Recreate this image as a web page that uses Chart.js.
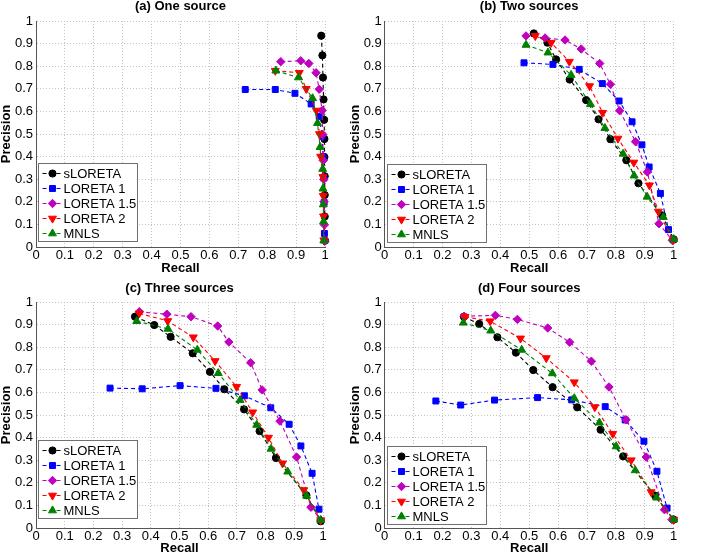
<!DOCTYPE html>
<html>
<head>
<meta charset="utf-8">
<script src="https://cdn.jsdelivr.net/npm/chart.js@4.4.0/dist/chart.umd.min.js"></script>
<style>
html, body { margin: 0; padding: 0; background: #fff; }
#wrap { position: relative; width: 725px; height: 555px; overflow: hidden; }
.panel { position: absolute; }
</style>
</head>
<body>
<div id="wrap">
    <div class="panel" style="left:0px;top:0px"><canvas id="chartA" width="362" height="277"></canvas></div>
    <div class="panel" style="left:349px;top:0px"><canvas id="chartB" width="376" height="277"></canvas></div>
    <div class="panel" style="left:0px;top:277px"><canvas id="chartC" width="362" height="278"></canvas></div>
    <div class="panel" style="left:349px;top:277px"><canvas id="chartD" width="376" height="278"></canvas></div>
</div>
<script>
// Legend names and panel titles
const methodNames = ['sLORETA', 'LORETA 1', 'LORETA 1.5', 'LORETA 2', 'MNLS'];
const panelTitles = ['(a) One source', '(b) Two sources', '(c) Three sources', '(d) Four sources'];

// Points are [recall, precision]
// (a) One source
const a_sLORETA = [[0.987,0.935],[0.991,0.848],[0.993,0.75],[0.995,0.653],[0.997,0.563],[0.998,0.478],[0.998,0.398],[0.999,0.313],[0.999,0.23],[0.999,0.135],[1.0,0.028]];
const a_LORETA1 = [[0.724,0.697],[0.828,0.697],[0.896,0.68],[0.952,0.633],[0.98,0.578],[0.99,0.49],[0.993,0.40],[0.996,0.305],[0.997,0.197],[0.998,0.06]];
const a_LORETA15 = [[0.847,0.82],[0.916,0.824],[0.944,0.812],[0.969,0.771],[0.98,0.698],[0.99,0.604],[0.992,0.498],[0.994,0.383],[0.996,0.30],[0.997,0.2],[0.998,0.098],[0.999,0.025]];
const a_LORETA2 = [[0.828,0.78],[0.911,0.771],[0.935,0.70],[0.97,0.604],[0.981,0.50],[0.985,0.40],[0.993,0.31],[0.994,0.226],[0.995,0.136],[0.996,0.03]];
const a_MNLS = [[0.83,0.78],[0.908,0.75],[0.957,0.658],[0.974,0.548],[0.983,0.442],[0.992,0.345],[0.993,0.258],[0.994,0.188],[0.995,0.113],[0.996,0.028]];

// (b) Two sources
const b_sLORETA = [[0.516,0.945],[0.563,0.904],[0.593,0.83],[0.64,0.741],[0.697,0.65],[0.74,0.565],[0.781,0.477],[0.836,0.384],[0.878,0.282],[0.96,0.14],[1.0,0.034]];
const b_LORETA1 = [[0.482,0.815],[0.582,0.808],[0.673,0.786],[0.753,0.723],[0.811,0.646],[0.856,0.554],[0.89,0.452],[0.915,0.354],[0.954,0.237],[0.982,0.077],[0.998,0.032]];
const b_LORETA15 = [[0.489,0.934],[0.555,0.925],[0.624,0.916],[0.68,0.876],[0.744,0.812],[0.781,0.72],[0.813,0.603],[0.868,0.466],[0.909,0.332],[0.949,0.103],[0.995,0.03]];
const b_LORETA2 = [[0.521,0.934],[0.576,0.904],[0.639,0.82],[0.709,0.712],[0.754,0.594],[0.807,0.48],[0.862,0.374],[0.916,0.273],[0.947,0.157],[0.998,0.03]];
const b_MNLS = [[0.489,0.894],[0.565,0.86],[0.645,0.761],[0.712,0.632],[0.762,0.526],[0.825,0.412],[0.863,0.316],[0.908,0.222],[0.964,0.132],[1.0,0.034]];

// (c) Three sources
const c_sLORETA = [[0.345,0.935],[0.412,0.898],[0.469,0.846],[0.546,0.773],[0.606,0.691],[0.656,0.614],[0.725,0.525],[0.779,0.429],[0.836,0.31],[0.942,0.145],[0.992,0.03]];
const c_LORETA1 = [[0.258,0.619],[0.37,0.616],[0.502,0.63],[0.627,0.618],[0.726,0.585],[0.818,0.532],[0.882,0.459],[0.923,0.363],[0.962,0.242],[0.986,0.083]];
const c_LORETA15 = [[0.36,0.957],[0.456,0.946],[0.54,0.935],[0.633,0.894],[0.672,0.823],[0.748,0.731],[0.788,0.611],[0.85,0.473],[0.908,0.314],[0.958,0.092],[0.992,0.035]];
const c_LORETA2 = [[0.36,0.95],[0.459,0.916],[0.548,0.844],[0.624,0.739],[0.699,0.625],[0.755,0.512],[0.81,0.4],[0.859,0.286],[0.933,0.168],[0.992,0.035]];
const c_MNLS = [[0.351,0.915],[0.46,0.881],[0.562,0.788],[0.635,0.685],[0.711,0.566],[0.769,0.456],[0.819,0.35],[0.877,0.249],[0.943,0.142],[0.992,0.035]];

// (d) Four sources
const d_sLORETA = [[0.274,0.935],[0.327,0.903],[0.39,0.844],[0.454,0.776],[0.514,0.699],[0.581,0.623],[0.666,0.534],[0.747,0.435],[0.825,0.317],[0.936,0.143],[1.0,0.037]];
const d_LORETA1 = [[0.177,0.562],[0.263,0.544],[0.38,0.566],[0.529,0.577],[0.647,0.567],[0.763,0.537],[0.832,0.478],[0.897,0.384],[0.942,0.251],[0.977,0.088]];
const d_LORETA15 = [[0.275,0.937],[0.383,0.941],[0.459,0.923],[0.564,0.885],[0.64,0.822],[0.715,0.738],[0.776,0.624],[0.835,0.479],[0.905,0.314],[0.968,0.081],[0.994,0.037]];
const d_LORETA2 = [[0.278,0.935],[0.365,0.915],[0.47,0.839],[0.559,0.752],[0.656,0.645],[0.727,0.535],[0.789,0.417],[0.853,0.3],[0.922,0.159],[1.0,0.037]];
const d_MNLS = [[0.272,0.908],[0.367,0.873],[0.474,0.788],[0.58,0.684],[0.656,0.574],[0.743,0.466],[0.801,0.361],[0.867,0.255],[0.941,0.134],[1.0,0.037]];

// Marker look per method (MATLAB style)
const seriesStyle = [
    { color: '#000000', point: 'circle', radius: 3.6, rotation: 0 },
    { color: '#0000ff', point: 'rect', radius: 4.2, rotation: 0 },
    { color: '#bf00bf', point: 'rectRot', radius: 4.2, rotation: 0 },
    { color: '#ff0000', point: 'triangle', radius: 4.6, rotation: 180 },
    { color: '#008000', point: 'triangle', radius: 4.6, rotation: 0 }
];

const panels = [
    { id: 'chartA', series: [a_sLORETA, a_LORETA1, a_LORETA15, a_LORETA2, a_MNLS], w: 362, h: 277, area: { l: 36, r: 325, b: 247 }, titlePad: { top: 0, bottom: 8 }, xTitlePad: 2.5, legendGap: 6 },
    { id: 'chartB', series: [b_sLORETA, b_LORETA1, b_LORETA15, b_LORETA2, b_MNLS], w: 376, h: 277, area: { l: 35.7, r: 324.7, b: 247 }, titlePad: { top: 0, bottom: 8 }, xTitlePad: 2.5, legendGap: 5 },
    { id: 'chartC', series: [c_sLORETA, c_LORETA1, c_LORETA15, c_LORETA2, c_MNLS], w: 362, h: 278, area: { l: 36, r: 323, b: 251 }, titlePad: { top: 4.5, bottom: 7.5 }, xTitlePad: 0, legendGap: 10 },
    { id: 'chartD', series: [d_sLORETA, d_LORETA1, d_LORETA15, d_LORETA2, d_MNLS], w: 376, h: 278, area: { l: 35.7, r: 324.7, b: 251 }, titlePad: { top: 4.5, bottom: 7.5 }, xTitlePad: 0, legendGap: 4 }
];

const FONT = '"Liberation Sans", Arial, Helvetica, sans-serif';
Chart.defaults.font.family = FONT;
Chart.defaults.color = '#000';

// Legend box in the lower-left corner of the plot, MATLAB style
const boxLegend = {
    id: 'boxLegend',
    afterDatasetsDraw(chart) {
        const ctx = chart.ctx;
        const area = chart.chartArea;
        const gap = chart.options.plugins.boxLegend.gap;
        const w = 99, h = 78;
        const x = Math.round(area.left + 2) + 0.5;
        const y = Math.round(area.bottom - gap - h) + 0.5;
        ctx.save();
        ctx.fillStyle = '#ffffff';
        ctx.fillRect(x, y, w, h);
        ctx.strokeStyle = '#707070';
        ctx.lineWidth = 1;
        ctx.strokeRect(x, y, w, h);
        methodNames.forEach((name, i) => {
            const st = seriesStyle[i];
            const cy = y + 10 + 15 * i;
            ctx.strokeStyle = st.color;
            ctx.setLineDash([4, 3]);
            ctx.beginPath();
            ctx.moveTo(x + 4, cy);
            ctx.lineTo(x + 24, cy);
            ctx.stroke();
            ctx.setLineDash([]);
            ctx.fillStyle = st.color;
            ctx.strokeStyle = st.color;
            Chart.helpers.drawPoint(ctx, { pointStyle: st.point, rotation: st.rotation, radius: st.radius, borderWidth: 1 }, x + 14, cy);
            ctx.fillStyle = '#000';
            ctx.font = '13px ' + FONT;
            ctx.textBaseline = 'middle';
            ctx.textAlign = 'left';
            ctx.fillText(name, x + 25, cy + 0.5);
        });
        ctx.restore();
    }
};

function buildDatasets(series) {
    return series.map((points, i) => {
        const st = seriesStyle[i];
        return {
            label: methodNames[i],
            data: points.map(p => ({ x: p[0], y: p[1] })),
            showLine: true,
            borderColor: st.color,
            backgroundColor: st.color,
            borderWidth: 1.1,
            borderDash: [4, 3],
            pointStyle: st.point,
            pointRotation: st.rotation,
            pointRadius: st.radius,
            pointBackgroundColor: st.color,
            pointBorderColor: st.color,
            pointBorderWidth: 1,
            clip: false,
            order: 5 - i
        };
    });
}

panels.forEach((p, idx) => {
    new Chart(document.getElementById(p.id), {
        type: 'scatter',
        data: { datasets: buildDatasets(p.series) },
        options: {
            responsive: false,
            animation: false,
            layout: { padding: { left: 0, top: 0, right: p.w - p.area.r, bottom: 0 } },
            plugins: {
                legend: { display: false },
                tooltip: { enabled: false },
                boxLegend: { gap: p.legendGap },
                title: {
                    display: true,
                    text: panelTitles[idx],
                    fullSize: false,
                    color: '#000',
                    font: { size: 13, weight: 'bold', lineHeight: 1 },
                    padding: p.titlePad
                }
            },
            scales: {
                x: {
                    type: 'linear',
                    min: 0,
                    max: 1,
                    afterFit: s => { s.height = p.h - p.area.b; },
                    ticks: {
                        stepSize: 0.1,
                        maxRotation: 0,
                        padding: 1,
                        color: '#000',
                        font: { size: 13 },
                        callback: v => String(+v.toFixed(1))
                    },
                    grid: { color: '#c4c4c4', drawTicks: false, lineWidth: 1 },
                    border: { display: true, color: '#555', width: 1, dash: [1, 2] },
                    title: {
                        display: true,
                        text: 'Recall',
                        color: '#000',
                        font: { size: 13, weight: 'bold', lineHeight: 1 },
                        padding: { top: 0, bottom: p.xTitlePad }
                    }
                },
                y: {
                    type: 'linear',
                    min: 0,
                    max: 1,
                    afterFit: s => { s.width = p.area.l; },
                    ticks: {
                        stepSize: 0.1,
                        padding: 3,
                        color: '#000',
                        font: { size: 13 },
                        callback: v => String(+v.toFixed(1))
                    },
                    grid: { color: '#c4c4c4', drawTicks: false, lineWidth: 1 },
                    border: { display: true, color: '#555', width: 1, dash: [1, 2] },
                    title: {
                        display: true,
                        text: 'Precision',
                        color: '#000',
                        font: { size: 13, weight: 'bold', lineHeight: 1 },
                        padding: { top: 0, bottom: 0 }
                    }
                }
            }
        },
        plugins: [boxLegend]
    });
});
</script>
</body>
</html>
